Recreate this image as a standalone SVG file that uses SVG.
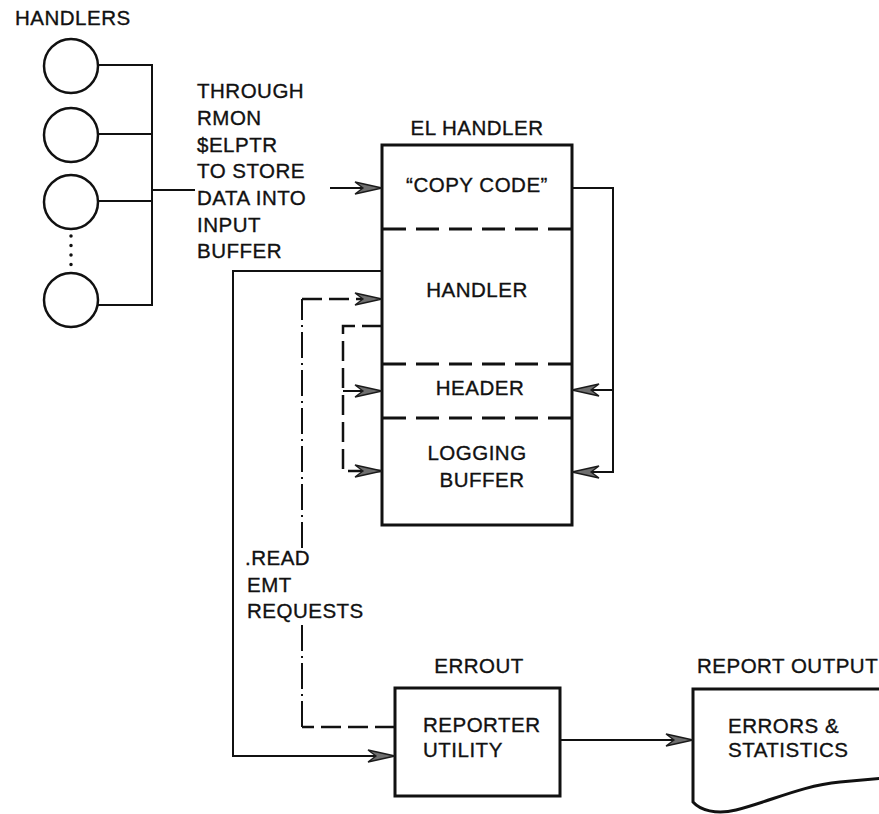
<svg xmlns="http://www.w3.org/2000/svg" width="879" height="814" viewBox="0 0 879 814">
<style>
text{font-family:"Liberation Sans",Arial,sans-serif;font-size:20.5px;fill:#111;stroke:#111;stroke-width:0.35px;letter-spacing:0.5px}
.c{text-anchor:middle}
.ln{fill:none;stroke:#111;stroke-width:2}
.box{fill:#fff;stroke:#111;stroke-width:3}
.div{fill:none;stroke:#111;stroke-width:3;stroke-dasharray:23 10}
.dd{fill:none;stroke:#111;stroke-width:2;stroke-dasharray:26 5 2 5}
.ds{fill:none;stroke:#111;stroke-width:2.5;stroke-dasharray:20 7}
</style>
<defs>
<marker id="ah" markerUnits="userSpaceOnUse" viewBox="-1 -8 30 16" markerWidth="30" markerHeight="16" refX="27" refY="0" orient="auto">
<path d="M0,-6 L27,0 L0,6 L8,0 Z" fill="#6e6e6e" stroke="#1a1a1a" stroke-width="1.3"/>
</marker>
</defs>

<g id="handlers">
<text x="15" y="25">HANDLERS</text>
<circle cx="71" cy="66" r="27" fill="none" stroke="#111" stroke-width="2.5"/>
<circle cx="71" cy="135" r="27" fill="none" stroke="#111" stroke-width="2.5"/>
<circle cx="71" cy="202" r="27" fill="none" stroke="#111" stroke-width="2.5"/>
<circle cx="71" cy="300" r="27" fill="none" stroke="#111" stroke-width="2.5"/>
<line x1="71" y1="236" x2="71" y2="274" stroke="#111" stroke-width="3.5" stroke-linecap="round" stroke-dasharray="0 9.5"/>
</g>

<g id="label-through">
<text x="197" y="98">THROUGH</text>
<text x="197" y="125">RMON</text>
<text x="197" y="152">$ELPTR</text>
<text x="197" y="178">TO STORE</text>
<text x="197" y="205">DATA INTO</text>
<text x="197" y="232">INPUT</text>
<text x="197" y="258">BUFFER</text>
</g>

<g id="el-handler">
<text class="c" x="477" y="135">EL HANDLER</text>
<rect class="box" x="382" y="145" width="190" height="380"/>
<line class="div" x1="383" y1="229" x2="571" y2="229"/>
<line class="div" x1="383" y1="364" x2="571" y2="364"/>
<line class="div" x1="383" y1="418" x2="571" y2="418"/>
<text class="c" x="477" y="192">“COPY CODE”</text>
<text class="c" x="477" y="297">HANDLER</text>
<text class="c" x="480" y="395">HEADER</text>
<text class="c" x="477" y="460">LOGGING</text>
<text class="c" x="482" y="487">BUFFER</text>
</g>

<g id="errout">
<text class="c" x="479" y="673">ERROUT</text>
<rect class="box" x="395" y="688" width="165" height="108"/>
<text x="423" y="732">REPORTER</text>
<text x="423" y="757">UTILITY</text>
</g>

<g id="report-output">
<text x="697" y="673">REPORT OUTPUT</text>
<path d="M885,689 L693,689 L693,802 C700,810 716,815 736,810 C772,801 800,786 840,782 L885,778" fill="#fff" stroke="#111" stroke-width="3"/>
<text x="728" y="733">ERRORS &amp;</text>
<text x="728" y="757">STATISTICS</text>
</g>

<g id="label-read">
<text x="245" y="565">.READ</text>
<text x="247" y="592">EMT</text>
<text x="247" y="618">REQUESTS</text>
</g>

<g id="connectors">
<path class="ln" d="M98,65 H152 M98,134 H152 M98,201 H152 M98,305 H152 M152,64 V306 M152,190 H195"/>
<path class="ln" d="M330,188 H382" marker-end="url(#ah)"/>
<path class="ln" d="M572,188 H613 V472 H572" marker-end="url(#ah)"/>
<path class="ln" d="M613,390 H572" marker-end="url(#ah)"/>
<path class="ln" d="M382,271 H233 V756 H395" marker-end="url(#ah)"/>
<path class="ds" d="M395,727 H302"/>
<path class="dd" d="M302,727 V622"/>
<path class="dd" d="M302,548 V299"/>
<path class="ds" d="M302,299 H382" marker-end="url(#ah)"/>
<path class="ds" d="M382,326 H343 V471 H382" marker-end="url(#ah)"/>
<path class="ln" d="M343,391 H382" marker-end="url(#ah)"/>
<path class="ln" d="M560,740 H693" marker-end="url(#ah)"/>
</g>
</svg>
